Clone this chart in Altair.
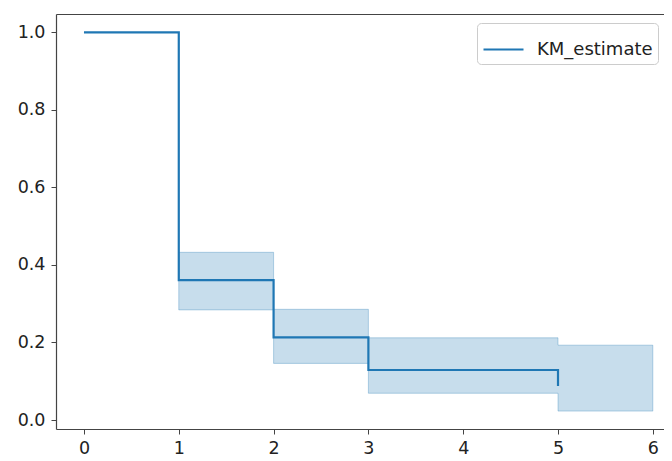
import altair as alt
import pandas as pd

# Kaplan-Meier estimate
times_line = [0, 1, 2, 3, 5]
km_estimate = [1.0, 0.361, 0.213, 0.129, 0.088]

# Confidence band
times_ci = [1, 2, 3, 5, 6]
ci_lower = [0.284, 0.146, 0.069, 0.023, 0.023]
ci_upper = [0.4325, 0.2855, 0.212, 0.193, 0.193]

x_ticks = [0, 1, 2, 3, 4, 5, 6]
y_ticks = [0.0, 0.2, 0.4, 0.6, 0.8, 1.0]

series_name = "KM_estimate"
blue = "#1f77b4"
frame = "#444444"
txt = "#222222"
font = "DejaVu Sans"
fs = 17.5

line_df = pd.DataFrame({"t": times_line, "km": km_estimate, "series": series_name})
ci_df = pd.DataFrame({"t": times_ci, "lo": ci_lower, "hi": ci_upper})

xscale = alt.Scale(domain=[-0.295, 6.118], nice=False, zero=False)
yscale = alt.Scale(domain=[-0.0232, 1.0472], nice=False, zero=False)

yaxis = alt.Axis(values=y_ticks, format=".1f", tickSize=5, labelPadding=6,
                 labelFontSize=fs, labelFont=font, labelColor=txt, grid=False,
                 title=None, domainColor=frame, tickColor=frame, domainWidth=1.2)

band = alt.Chart(ci_df).mark_area(
    interpolate="step-after", color=blue, fillOpacity=0.25,
    stroke=blue, strokeOpacity=0.3, strokeWidth=1
).encode(
    x=alt.X("t:Q", scale=xscale,
            axis=alt.Axis(orient="top", labels=False, ticks=False, grid=False,
                          title=None, domainColor=frame, domainWidth=1.2)),
    y=alt.Y("lo:Q", scale=yscale, axis=yaxis),
    y2="hi:Q",
)

line = alt.Chart(line_df).mark_line(interpolate="step-after", strokeWidth=2.2).encode(
    x=alt.X("t:Q", scale=xscale,
            axis=alt.Axis(orient="bottom", values=x_ticks, format="d", tickSize=5,
                          labelPadding=5, labelFontSize=fs, labelFont=font,
                          labelColor=txt, grid=False, title=None,
                          domainColor=frame, tickColor=frame, domainWidth=1.2)),
    y=alt.Y("km:Q", scale=yscale, axis=yaxis),
    color=alt.Color("series:N", scale=alt.Scale(domain=[series_name], range=[blue]),
                    legend=alt.Legend(title=None, orient="none", legendX=421, legendY=9,
                                      symbolType="stroke", symbolSize=1600,
                                      symbolStrokeWidth=2.2, labelFontSize=18,
                                      labelFont=font, labelColor=txt, labelOffset=12,
                                      padding=5, strokeColor="#cccccc",
                                      fillColor="rgba(255,255,255,0.8)",
                                      cornerRadius=4)),
)

chart = alt.layer(band, line).resolve_axis(x="independent").properties(
    width=608, height=415,
    autosize=alt.AutoSizeParams(type="none"),
    padding={"left": 48, "top": 6, "right": 0, "bottom": 30},
).configure_view(stroke=None)

chart.save("out.html", embed_options={"renderer": "svg", "actions": False})
